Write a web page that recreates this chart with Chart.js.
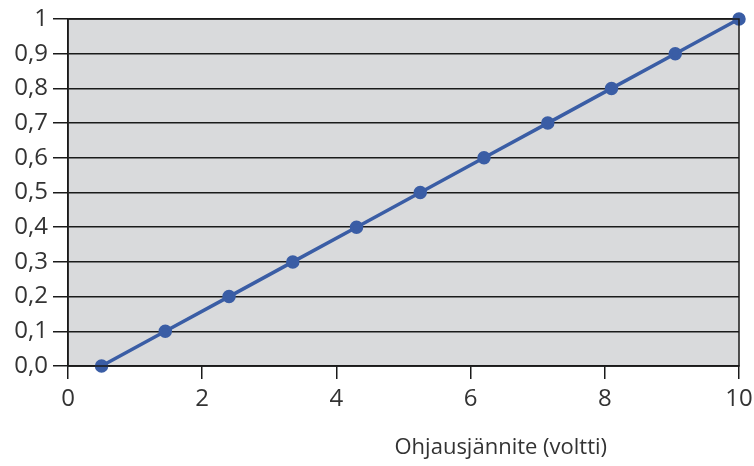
<!DOCTYPE html>
<html>
<head>
<meta charset="utf-8">
<script src="https://cdn.jsdelivr.net/npm/chart.js@4"></script>
<style>
  html, body { margin: 0; padding: 0; background: #fff; }
  #wrap { width: 754px; height: 466px; }
</style>
</head>
<body>
<div id="wrap"><canvas id="voltChart" width="754" height="466"></canvas></div>
<script>
// control voltage (V) vs. output
const voltage = [0.5, 1.45, 2.4, 3.35, 4.3, 5.25, 6.2, 7.15, 8.1, 9.05, 10];
const output = [0, 0.1, 0.2, 0.3, 0.4, 0.5, 0.6, 0.7, 0.8, 0.9, 1];
const yTickLabels = ['0,0', '0,1', '0,2', '0,3', '0,4', '0,5', '0,6', '0,7', '0,8', '0,9', '1'];
const xTickLabels = ['0', '2', '4', '6', '8', '10'];
const xTitle = 'Ohjausjännite (voltti)';

const FONT = '"Open Sans", "Noto Sans", sans-serif';

const plotBox = {
  id: 'plotBox',
  beforeDraw(chart) {
    const { ctx, chartArea: a } = chart;
    ctx.save();
    ctx.fillStyle = '#d9dadc';
    ctx.fillRect(a.left, a.top, a.right - a.left, a.bottom - a.top);
    ctx.restore();
  },
  afterDatasetsDraw(chart) {
    const { ctx, chartArea: a } = chart;
    ctx.save();
    ctx.strokeStyle = '#1a1a1a';
    ctx.lineWidth = 1.5;
    ctx.strokeRect(a.left, a.top, a.right - a.left, a.bottom - a.top);
    ctx.restore();
  },
  afterDraw(chart) {
    const { ctx, chartArea: a } = chart;
    ctx.save();
    ctx.fillStyle = '#333';
    ctx.font = '22px ' + FONT;
    ctx.textAlign = 'center';
    ctx.textBaseline = 'alphabetic';
    ctx.fillText(xTitle, a.left + (a.right - a.left) * 0.645, a.bottom + 88);
    ctx.restore();
  }
};

new Chart(document.getElementById('voltChart'), {
  type: 'line',
  data: {
    datasets: [{
      data: voltage.map((v, i) => ({ x: v, y: output[i] })),
      borderColor: '#3a5da5',
      backgroundColor: '#3a5da5',
      borderWidth: 3.5,
      pointRadius: 5,
      pointHoverRadius: 5,
      fill: false,
      tension: 0
    }]
  },
  options: {
    responsive: false,
    animation: false,
    clip: false,
    layout: { padding: { top: 19, right: 15, left: 0, bottom: 0 } },
    plugins: {
      legend: { display: false },
      tooltip: { enabled: false }
    },
    scales: {
      x: {
        type: 'linear',
        min: 0,
        max: 10,
        afterBuildTicks: (scale) => {
          scale.ticks = xTickLabels.map(t => ({ value: Number(t) }));
        },
        afterFit: (scale) => {
          scale.height = 100;
          scale.paddingLeft = 0;
          scale.paddingRight = 0;
        },
        grid: {
          drawOnChartArea: false,
          drawTicks: true,
          tickLength: 13,
          color: '#1a1a1a',
          lineWidth: 1.5
        },
        border: { display: true, color: '#1a1a1a', width: 1.5 },
        ticks: {
          padding: 6,
          color: '#333',
          font: { family: FONT, size: 24 },
          callback: (v) => String(v)
        }
      },
      y: {
        type: 'linear',
        min: 0,
        max: 1,
        afterBuildTicks: (scale) => {
          scale.ticks = yTickLabels.map((t, i) => ({ value: output[i] }));
        },
        afterFit: (scale) => {
          scale.width = 68;
          scale.paddingTop = 0;
          scale.paddingBottom = 0;
        },
        grid: {
          drawTicks: true,
          tickLength: 15,
          color: '#1a1a1a',
          lineWidth: 1.5
        },
        border: { display: true, color: '#1a1a1a', width: 1.5 },
        ticks: {
          padding: 5,
          color: '#333',
          font: { family: FONT, size: 24 },
          callback: (v, i) => yTickLabels[i]
        }
      }
    }
  },
  plugins: [plotBox]
});
</script>
</body>
</html>
